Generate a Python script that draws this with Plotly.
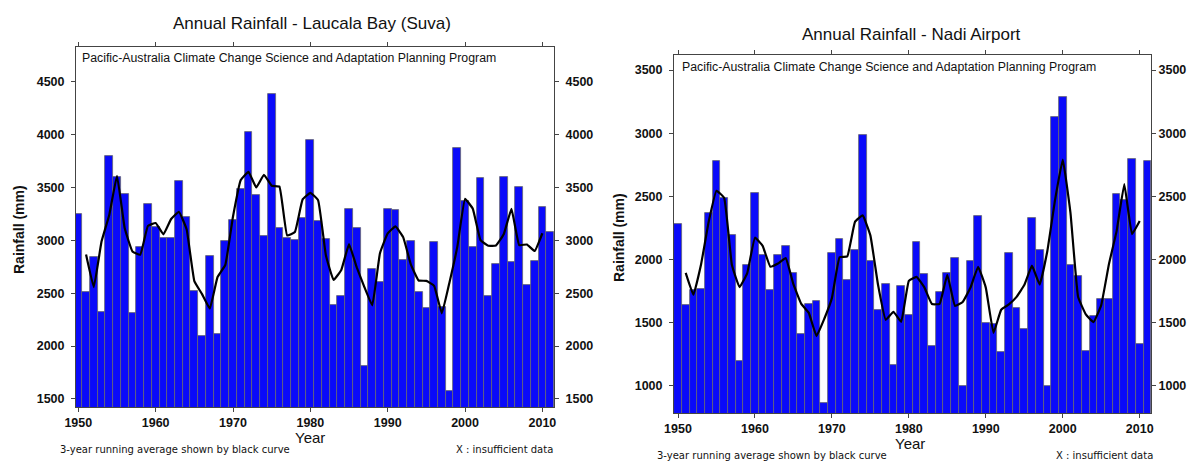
import pandas as pd
import plotly.graph_objects as go

years = list(range(1950, 2012))

suva_rain = [3250, 2510, 2840, 2325, 3800, 3595, 3435, 2310, 2940, 3340,
             3130, 3020, 3020, 3565, 3225, 2525, 2095, 2855, 2115, 2990,
             3195, 3490, 4025, 3430, 3045, 4385, 3118, 3020, 3000, 3215,
             3945, 3185, 3010, 2390, 2475, 3295, 3120, 1815, 2730, 2610,
             3295, 3290, 2810, 2990, 2510, 2360, 2980, 2370, 1580, 3870,
             3370, 2935, 3590, 2478, 2778, 3598, 2794, 3500, 2573, 2809,
             3314, 3077]

nadi_rain = [2285, 1640, 1760, 1765, 2365, 2780, 2490, 2195, 1195, 1955,
             2530, 2035, 1760, 2035, 2110, 1890, 1415, 1650, 1670, 865,
             2055, 2165, 1835, 2075, 2985, 1990, 1600, 1805, 1165, 1790,
             1565, 2140, 1885, 1320, 1740, 1890, 2010, 1000, 1985, 2345,
             1500, 1490, 1270, 2050, 1615, 1450, 2330, 2075, 1000, 3130,
             3285, 1960, 1870, 1280, 1550, 1685, 1685, 2520, 2470, 2800,
             1335, 2780]

suva_ticks = [1500, 2000, 2500, 3000, 3500, 4000, 4500]
nadi_ticks = [1000, 1500, 2000, 2500, 3000, 3500]
year_ticks = [1950, 1960, 1970, 1980, 1990, 2000, 2010]

titles = ["Annual Rainfall - Laucala Bay (Suva)", "Annual Rainfall - Nadi Airport"]
program_text = "Pacific-Australia Climate Change Science and Adaptation Planning Program"
foot_left = "3-year running average shown by black curve"
foot_right = "X : insufficient data"

# 3-year running average as stated by the chart's footnote
suva_avg = pd.Series(suva_rain, index=years).rolling(3, center=True).mean().dropna()
nadi_avg = pd.Series(nadi_rain, index=years).rolling(3, center=True).mean().dropna()

W, H = 1187, 461
BLUE = "#0a0afa"
FONT = "Liberation Sans, Arial, sans-serif"

fig = go.Figure()

def add_panel(rain, avg, xa, ya):
    fig.add_trace(go.Bar(x=years, y=rain, xaxis=xa, yaxis=ya,
                         marker=dict(color=BLUE, line=dict(color="#666670", width=0.8)),
                         width=1.0, showlegend=False, hoverinfo="x+y"))
    fig.add_trace(go.Scatter(x=list(avg.index), y=list(avg.values), xaxis=xa, yaxis=ya,
                             mode="lines", line=dict(color="black", width=2.2, shape="spline", smoothing=0.3),
                             showlegend=False))

add_panel(suva_rain, suva_avg, "x", "y")
add_panel(nadi_rain, nadi_avg, "x2", "y2")

def px_x(p):
    return p / W

def px_y(p):
    return 1 - p / H

tickfont = dict(family=FONT, size=12.5, color="#111", weight="bold")
axcommon = dict(showgrid=False, zeroline=False, showline=True, linecolor="#444", linewidth=1,
                ticks="outside", ticklen=4, tickcolor="#444", tickfont=tickfont, automargin=False)
rightaxis = dict(showgrid=False, zeroline=False, showline=False, ticks="outside", ticklen=4,
                 tickcolor="#444", tickfont=tickfont, automargin=False)

suva_range = [1424, 4828]
nadi_range = [786, 3619]

fig.update_layout(
    width=W, height=H,
    margin=dict(l=0, r=0, t=0, b=0, pad=0),
    paper_bgcolor="white", plot_bgcolor="white",
    bargap=0,
    xaxis=dict(domain=[px_x(76), px_x(554)], anchor="y", range=[1949.7, 2011.5],
               tickvals=year_ticks, mirror="ticks", **axcommon),
    yaxis=dict(domain=[px_y(407), px_y(47)], anchor="x", range=suva_range,
               tickvals=suva_ticks, mirror="ticks", ticklabelstandoff=4, **axcommon),
    yaxis3=dict(overlaying="y", anchor="x", side="right", range=suva_range,
                tickvals=suva_ticks, ticklabelstandoff=4, **rightaxis),
    xaxis2=dict(domain=[px_x(674), px_x(1151)], anchor="y2", range=[1949.48, 2011.47],
                tickvals=year_ticks, mirror="ticks", **axcommon),
    yaxis2=dict(domain=[px_y(413), px_y(55)], anchor="x2", range=nadi_range,
                tickvals=nadi_ticks, mirror="ticks", ticklabelstandoff=4, **axcommon),
    yaxis4=dict(overlaying="y2", anchor="x2", side="right", range=nadi_range,
                tickvals=nadi_ticks, ticklabelstandoff=0, **rightaxis),
)

# invisible traces so the right-hand label axes are drawn
fig.add_trace(go.Scatter(x=[None], y=[None], xaxis="x", yaxis="y3", showlegend=False, hoverinfo="skip"))
fig.add_trace(go.Scatter(x=[None], y=[None], xaxis="x2", yaxis="y4", showlegend=False, hoverinfo="skip"))

ann = []
def text(s, x, y, size, xanchor="center", yanchor="middle", angle=0, family=FONT, weight="normal"):
    ann.append(dict(text=s, x=px_x(x), y=px_y(y), xref="paper", yref="paper",
                    xanchor=xanchor, yanchor=yanchor, textangle=angle, showarrow=False,
                    font=dict(family=family, size=size, color="#111", weight=weight)))

text(titles[0], 312, 23, 17)
text(titles[1], 911, 35, 17)
text(program_text, 80, 58, 12.3, xanchor="left")
text(program_text, 680, 67, 12.3, xanchor="left")
text("Rainfall (mm)", 19, 229, 14, angle=-90, weight="bold")
text("Rainfall (mm)", 619, 237, 14, angle=-90, weight="bold")
text("Year", 310, 437, 15)
text("Year", 910, 443, 15)
text(foot_left, 58, 449, 10, xanchor="left", family="DejaVu Sans, Verdana, sans-serif")
text(foot_left, 655, 455, 10, xanchor="left", family="DejaVu Sans, Verdana, sans-serif")
text(foot_right, 555, 449, 10, xanchor="right", family="DejaVu Sans, Verdana, sans-serif")
text(foot_right, 1155, 455, 10, xanchor="right", family="DejaVu Sans, Verdana, sans-serif")
fig.update_layout(annotations=ann)

fig.write_html("out.html", config={"displayModeBar": False},
               post_script="document.body.style.margin='0';document.body.style.overflow='hidden';")
